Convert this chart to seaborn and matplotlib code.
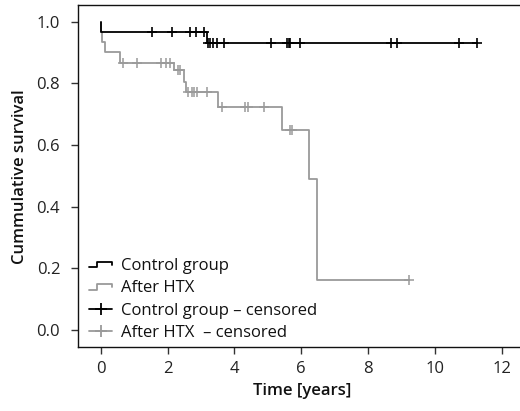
import numpy as np
import pandas as pd
import matplotlib
matplotlib.use("Agg")
import matplotlib.pyplot as plt
import seaborn as sns
from matplotlib.lines import Line2D
from matplotlib.legend_handler import HandlerBase

# ---- data ----
ctrl_times = [0.0, 0.0, 3.17]
ctrl_surv = [1.0, 0.967, 0.930]
ctrl_end = 11.26
ctrl_censor = [1.53, 2.13, 2.67, 2.84, 3.09, 3.22, 3.27, 3.37, 3.49, 3.70,
               5.10, 5.57, 5.62, 5.67, 5.97, 8.69, 8.86, 10.73, 11.26]

htx_times = [0.0, 0.0, 0.05, 0.12, 0.58, 2.19, 2.50, 2.55, 3.52, 5.43, 6.22, 6.47]
htx_surv = [1.0, 0.967, 0.933, 0.900, 0.867, 0.843, 0.805, 0.771, 0.724, 0.649, 0.489, 0.162]
htx_end = 9.21
htx_censor = [0.68, 1.10, 1.79, 1.96, 2.06, 2.31, 2.37, 2.60, 2.72, 2.79, 2.87, 3.18,
              3.63, 4.32, 4.40, 4.90, 5.65, 5.73, 9.21]

x_ticks = [0, 2, 4, 6, 8, 10, 12]
y_ticks = [0.0, 0.2, 0.4, 0.6, 0.8, 1.0]
labels = ["Control group", "After HTX", "Control group \u2013 censored", "After HTX  \u2013 censored"]

BLACK = "#000000"
GRAY = "#9a9a9a"
FS = 12

sns.set_style("ticks")
plt.rcParams["font.family"] = ["Open Sans", "DejaVu Sans"]


def step_value(times, surv, t):
    idx = np.searchsorted(np.asarray(times), t, side="right") - 1
    return np.asarray(surv)[idx]


def curve_df(times, surv, end):
    return pd.DataFrame({"t": list(times) + [end], "s": list(surv) + [surv[-1]]})


fig = plt.figure(figsize=(5.2, 4.11), dpi=100)
ax = fig.add_axes([78.3 / 520, 1 - 347.3 / 411, 1 - 78.3 / 520 + 0.01, (347.3 - 5) / 411])

c_df = curve_df(ctrl_times, ctrl_surv, ctrl_end)
h_df = curve_df(htx_times, htx_surv, htx_end)

sns.lineplot(data=c_df, x="t", y="s", ax=ax, color=BLACK, lw=1.3,
             drawstyle="steps-post", sort=False, estimator=None, zorder=3)
sns.lineplot(data=h_df, x="t", y="s", ax=ax, color=GRAY, lw=1.3,
             drawstyle="steps-post", sort=False, estimator=None, zorder=2)

cc = pd.DataFrame({"t": ctrl_censor, "s": [step_value(ctrl_times, ctrl_surv, t) for t in ctrl_censor]})
hc = pd.DataFrame({"t": htx_censor, "s": [step_value(htx_times, htx_surv, t) for t in htx_censor]})
sns.scatterplot(data=cc, x="t", y="s", ax=ax, marker="+", s=60, color=BLACK,
                linewidth=1.2, zorder=4)
sns.scatterplot(data=hc, x="t", y="s", ax=ax, marker="+", s=50, color=GRAY,
                linewidth=1.1, zorder=3)

ax.set_xlim(-0.67, 12.7)
ax.set_ylim(-0.056, 1.054)
ax.set_xticks(x_ticks)
ax.set_xticklabels([str(v) for v in x_ticks])
ax.set_yticks(y_ticks)
ax.set_yticklabels([f"{v:.1f}" for v in y_ticks])
ax.tick_params(axis="both", labelsize=FS, length=5, width=1.0, color="#333333",
               labelcolor="#222222")
ax.tick_params(axis="x", pad=5)
ax.tick_params(axis="y", pad=8)
for side in ["left", "bottom", "top"]:
    ax.spines[side].set_color("#111111")
    ax.spines[side].set_linewidth(1.0)
ax.spines["right"].set_visible(False)

ax.set_xlabel("Time [years]", fontsize=FS, fontweight="semibold", color="#111111", labelpad=4)
ax.set_ylabel("Cummulative survival", fontsize=FS, fontweight="semibold", color="#111111", labelpad=6)


class StepHandler(HandlerBase):
    def __init__(self, color):
        super().__init__()
        self.color = color

    def create_artists(self, legend, orig_handle, xdescent, ydescent, width, height, fontsize, trans):
        x0, y0 = -xdescent, -ydescent
        xs = [x0, x0 + 0.35 * width, x0 + 0.35 * width, x0 + width, x0 + width]
        ys = [y0 + 0.25 * height, y0 + 0.25 * height, y0 + 0.7 * height, y0 + 0.7 * height, y0 + 0.45 * height]
        ln = Line2D(xs, ys, color=self.color, lw=1.3, transform=trans)
        return [ln]


h1 = Line2D([], [], color=BLACK)
h2 = Line2D([], [], color=GRAY)
h3 = Line2D([], [], color=BLACK, lw=1.3, marker="+", markersize=9, markeredgewidth=1.3)
h4 = Line2D([], [], color=GRAY, lw=1.3, marker="+", markersize=9, markeredgewidth=1.3)

leg = ax.legend([h1, h2, h3, h4], labels, loc="lower left",
                bbox_to_anchor=(0.024, 0.018), frameon=False, fontsize=FS,
                handlelength=1.4, handletextpad=0.5, labelspacing=0.38, borderpad=0,
                borderaxespad=0,
                handler_map={h1: StepHandler(BLACK), h2: StepHandler(GRAY)})
for t in leg.get_texts():
    t.set_color("#111111")

fig.savefig("out.png", dpi=100)
